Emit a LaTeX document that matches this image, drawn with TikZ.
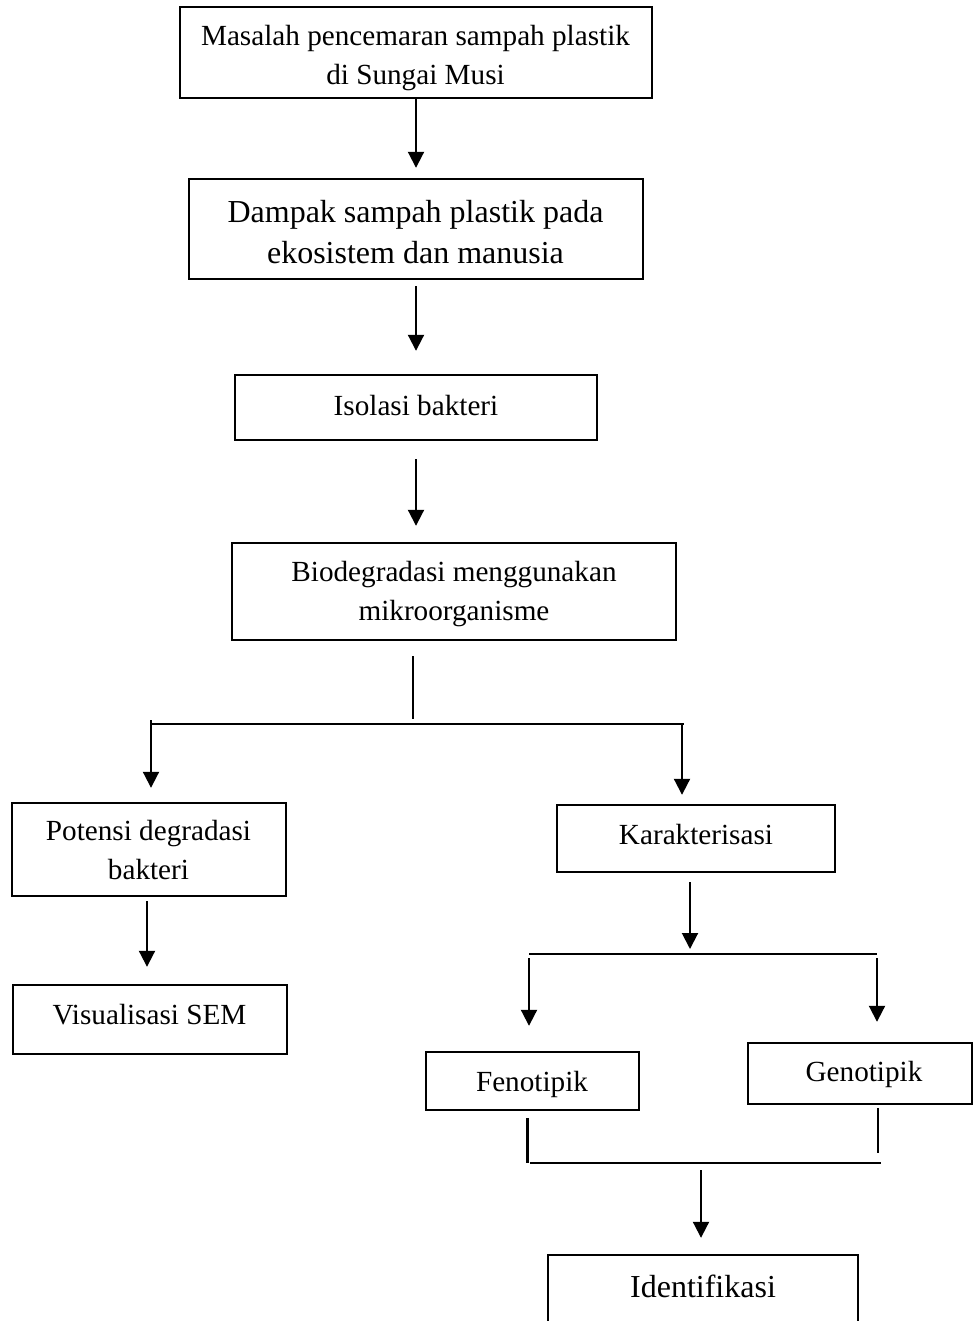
\documentclass[tikz,border=0pt]{standalone}
\usepackage{fontspec}
\setmainfont{Liberation Serif}
\usetikzlibrary{arrows.meta,calc,fit}
\tikzset{
  box/.style={draw, line width=1.2pt, inner sep=0pt},
  txt/.style={align=center, inner sep=0pt, font=\fontsize{14.6}{19.5}\selectfont},
  bigtxt/.style={align=center, inner sep=0pt, font=\fontsize{16}{20.5}\selectfont},
  arr/.style={line width=1pt, -{Triangle[length=8pt,width=8pt]}},
  ln/.style={line width=1.1pt},
  hln/.style={line width=1.3pt}
}
\begin{document}
\begin{tikzpicture}[x=0.5pt,y=-0.5pt]
\clip (0,0) rectangle (974,1321);
\fill[white] (0,0) rectangle (974,1321);
% boxes
\node[box, fit={(180,7) (652,98)}] (b1) {};
\node[box, fit={(189,179) (643,279)}] (b2) {};
\node[box, fit={(235,375) (597,440)}] (b3) {};
\node[box, fit={(232,543) (676,640)}] (b4) {};
\node[box, fit={(12,803) (286,896)}] (b5) {};
\node[box, fit={(557,805) (835,872)}] (b6) {};
\node[box, fit={(13,985) (287,1054)}] (b7) {};
\node[box, fit={(426,1052) (639,1110)}] (b8) {};
\node[box, fit={(748,1043) (972,1104)}] (b9) {};
\node[box, fit={(548,1255) (858,1345)}] (b10) {};
% texts
\node[txt] (t1) at (415.5,58) {Masalah pencemaran sampah plastik\\di Sungai Musi};
\node[bigtxt] (t2) at (415.5,232) {Dampak sampah plastik pada\\ekosistem dan manusia};
\node[txt] (t3) at (416,406) {Isolasi bakteri};
\node[txt] (t4) at (454,594) {Biodegradasi menggunakan\\mikroorganisme};
\node[txt] (t5) at (148.5,850.5) {Potensi degradasi\\bakteri};
\node[txt] (t6) at (696,835) {Karakterisasi};
\node[txt] (t7) at (149.5,1015) {Visualisasi SEM};
\node[txt] (t8) at (532,1084) {Fenotipik};
\node[txt] (t9) at (864,1074) {Genotipik};
\node[bigtxt] (t10) at (703,1286.5) {Identifikasi};
% junction coordinates
\coordinate (j1) at (413,724);
\coordinate (hl1) at (151,724);
\coordinate (hr1) at (684,724);
\coordinate (j2) at (690,954);
\coordinate (hl2) at (529,954);
\coordinate (hr2) at (877,954);
\coordinate (fl) at (527.5,1163);
\coordinate (fr) at (881,1163);
\coordinate (j3) at (701,1163);
% connectors
\draw[arr] (b1.south) -- ($(b2.north)+(0,-10)$);
\draw[arr] ($(b2.south)+(0,6)$) -- ($(b3.north)+(0,-23)$);
\draw[arr] ($(b3.south)+(0,18)$) -- ($(b3.south |- b4.north)+(0,-16)$);
\draw[ln] ($(j1 |- b4.south)+(0,15)$) -- ($(j1)+(0,-5)$);
\draw[hln] (hl1) -- (hr1);
\draw[arr] ($(hl1)+(0,-4)$) -- ($(hl1 |- b5.north)+(0,-14)$);
\draw[arr] ($(hr1)+(-2,0)$) -- ($(hr1 |- b6.north)+(-2,-9)$);
\draw[arr] ($(b5.south)+(-2,4)$) -- ($(b5.south |- b7.north)+(-2,-17)$);
\draw[arr] ($(j2 |- b6.south)+(0,9)$) -- ($(j2)+(0,-5)$);
\draw[hln] (hl2) -- (hr2);
\draw[arr] ($(hl2)+(0,4)$) -- ($(hl2 |- b8.north)+(0,-25)$);
\draw[arr] ($(hr2)+(0,4)$) -- ($(hr2 |- b9.north)+(0,-20)$);
\draw[ln] ($(fl |- b8.south)+(0,7)$) -- (fl);
\draw[ln] ($(fr |- b9.south)+(-3,3)$) -- ($(fr)+(-3,-10)$);
\draw[hln] ($(fl)+(2,0)$) -- (fr);
\draw[arr] ($(j3)+(0,7)$) -- ($(j3 |- b10.north)+(0,-16)$);
\end{tikzpicture}
\end{document}
